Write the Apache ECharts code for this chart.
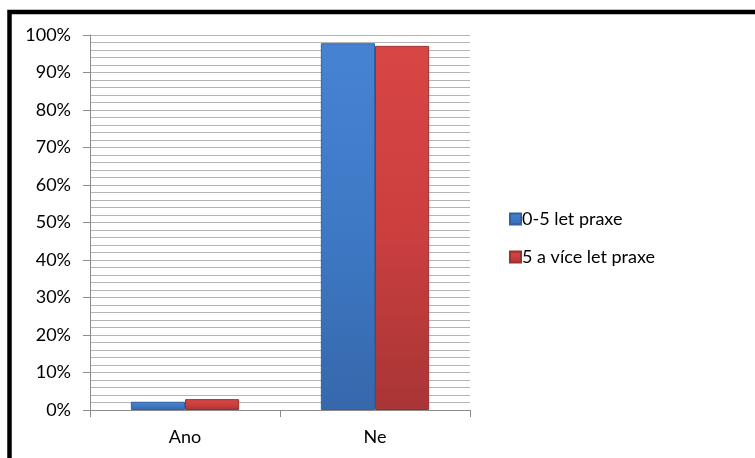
<!DOCTYPE html>
<html>
<head>
<meta charset="utf-8">
<script src="https://cdn.jsdelivr.net/npm/echarts@6/dist/echarts.min.js"></script>
<style>
  html, body { margin: 0; padding: 0; background: #fff; }
  #chart { width: 755px; height: 458px; }
</style>
</head>
<body>
<div id="chart"></div>
<script>
// Answer categories and the share of respondents in each experience group (%)
const categories = ['Ano', 'Ne'];
const seriesNames = ['0-5 let praxe', '5 a více let praxe'];
const juniorValues = [2.2, 97.8];
const seniorValues = [2.9, 97.1];
const yTicks = [0, 10, 20, 30, 40, 50, 60, 70, 80, 90, 100];

const FONT = 'Lato, "Open Sans", sans-serif';

function bevel(top, mid, bottom) {
  return new echarts.graphic.LinearGradient(0, 0, 0, 1, [
    { offset: 0, color: top },
    { offset: 0.5, color: mid },
    { offset: 1, color: bottom }
  ]);
}

const chart = echarts.init(document.getElementById('chart'), null, { renderer: 'canvas' });

chart.setOption({
  animation: false,
  backgroundColor: '#ffffff',
  textStyle: { fontFamily: FONT },
  graphic: [{
    type: 'rect',
    shape: { x: 9.5, y: 12, width: 820, height: 520 },
    style: { fill: 'none', stroke: '#000', lineWidth: 4.5 },
    silent: true
  }],
  grid: { left: 90, right: 285, top: 35, bottom: 48, containLabel: false },
  legend: {
    orient: 'vertical',
    left: 504,
    top: 205,
    itemWidth: 11,
    itemHeight: 11,
    itemGap: 20,
    icon: 'rect',
    data: seriesNames,
    textStyle: { fontFamily: FONT, fontSize: 18, color: '#000', padding: [0, 0, 0, -4] }
  },
  xAxis: {
    type: 'category',
    data: categories,
    boundaryGap: true,
    axisLine: { show: true, lineStyle: { color: '#8c8c8c', width: 1 } },
    axisTick: { show: true, alignWithLabel: false, length: 7, lineStyle: { color: '#8c8c8c' } },
    axisLabel: { fontFamily: FONT, fontSize: 18, color: '#000', margin: 18 },
    splitLine: { show: false }
  },
  yAxis: {
    type: 'value',
    min: yTicks[0],
    max: yTicks[yTicks.length - 1],
    interval: 10,
    axisLine: { show: true, lineStyle: { color: '#8c8c8c', width: 1 } },
    axisTick: { show: true, length: 7, lineStyle: { color: '#8c8c8c' } },
    axisLabel: {
      fontFamily: FONT, fontSize: 18, color: '#000', margin: 19,
      formatter: v => v + '%'
    },
    splitLine: { show: true, lineStyle: { color: '#b4b4b4', width: 1 } },
    minorTick: { show: false, splitNumber: 5 },
    minorSplitLine: { show: true, lineStyle: { color: '#b4b4b4', width: 1 } }
  },
  series: [
    {
      name: seriesNames[0],
      type: 'bar',
      data: juniorValues,
      barGap: '0%',
      barCategoryGap: '43%',
      itemStyle: {
        color: bevel('#4683d2', '#3e79c6', '#3668ab'),
        borderColor: '#33609e',
        borderWidth: 1
      }
    },
    {
      name: seriesNames[1],
      type: 'bar',
      data: seniorValues,
      barGap: '0%',
      barCategoryGap: '43%',
      itemStyle: {
        color: bevel('#d84545', '#cc3f3f', '#a83535'),
        borderColor: '#9a3030',
        borderWidth: 1
      }
    }
  ]
});
</script>
</body>
</html>
